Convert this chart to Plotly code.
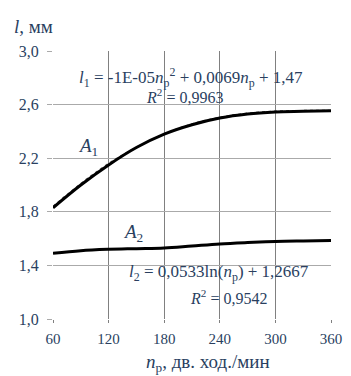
import plotly.graph_objects as go

n_p = [60, 90, 120, 150, 180, 210, 240, 270, 300, 330, 360]
l1 = [1.83, 2.00, 2.15, 2.28, 2.38, 2.45, 2.50, 2.53, 2.545, 2.55, 2.555]
l1_trend = [1.84, 2.01, 2.16, 2.28, 2.38, 2.455, 2.505, 2.535, 2.55, 2.555, 2.555]
l2 = [1.49, 1.51, 1.52, 1.525, 1.53, 1.545, 1.56, 1.57, 1.578, 1.582, 1.585]

x_ticks = [60, 120, 180, 240, 300, 360]
x_ticktext = ["60", "120", "180", "240", "300", "360"]
y_ticks = [1.0, 1.4, 1.8, 2.2, 2.6, 3.0]
y_ticktext = ["1,0", "1,4", "1,8", "2,2", "2,6", "3,0"]

FONT = "Liberation Serif"

fig = go.Figure()
fig.add_trace(go.Scatter(x=n_p, y=l1_trend, mode="lines", line=dict(color="#555", width=1.5, dash="dot", shape="spline"), showlegend=False))
fig.add_trace(go.Scatter(x=n_p, y=l1, mode="lines", line=dict(color="black", width=3, shape="spline"), showlegend=False))
fig.add_trace(go.Scatter(x=n_p, y=l2, mode="lines", line=dict(color="black", width=3, shape="spline"), showlegend=False))

ann = [
    dict(x=209, y=2.80, text="<i>l</i><sub>1</sub> = -1E-05<i>n</i><sub>р</sub><sup>2</sup> + 0,0069<i>n</i><sub>р</sub> + 1,47", size=17),
    dict(x=202, y=2.665, text="<i>R</i><sup>2</sup> = 0,9963", size=16),
    dict(x=98, y=2.28, text="<i>A</i><sub>1</sub>", size=19),
    dict(x=146, y=1.64, text="<i>A</i><sub>2</sub>", size=19),
    dict(x=239, y=1.343, text="<i>l</i><sub>2</sub> = 0,0533ln(<i>n</i><sub>р</sub>) + 1,2667", size=17),
    dict(x=249, y=1.164, text="<i>R</i><sup>2</sup> = 0,9542", size=16),
]
for a in ann:
    fig.add_annotation(x=a["x"], y=a["y"], text=a["text"], showarrow=False,
                       font=dict(family=FONT, size=a["size"]))

fig.add_annotation(x=0, y=1.0, xref="paper", yref="paper", xanchor="left", yanchor="middle",
                   yshift=25, xshift=-41, text="<i>l</i>, мм", showarrow=False,
                   font=dict(family=FONT, size=19))
fig.add_annotation(x=0.5, y=0, xref="paper", yref="paper", yanchor="middle", yshift=-44, xshift=16,
                   text="<i>n</i><sub>р</sub>, дв. ход./мин", showarrow=False,
                   font=dict(family=FONT, size=19))

fig.update_xaxes(range=[60, 360], tickvals=x_ticks, ticktext=x_ticktext, automargin=False,
                 showgrid=True, gridcolor="#808080", gridwidth=1,
                 showline=False, zeroline=False, ticks="outside", ticklen=3, tickcolor="#808080",
                 ticklabelstandoff=3,
                 tickfont=dict(family=FONT, size=15))
fig.update_yaxes(range=[1.0, 3.0], tickvals=y_ticks, ticktext=y_ticktext, automargin=False,
                 showgrid=True, gridcolor="#aaaaaa", gridwidth=1,
                 showline=False, zeroline=False, ticks="outside", ticklen=5, tickcolor="#aaaaaa",
                 ticklabelstandoff=5,
                 tickfont=dict(family=FONT, size=16))

fig.update_layout(width=351, height=376, margin=dict(l=45, r=28, t=43, b=65),
                  plot_bgcolor="white", paper_bgcolor="white", showlegend=False)

fig.write_html("out.html")
